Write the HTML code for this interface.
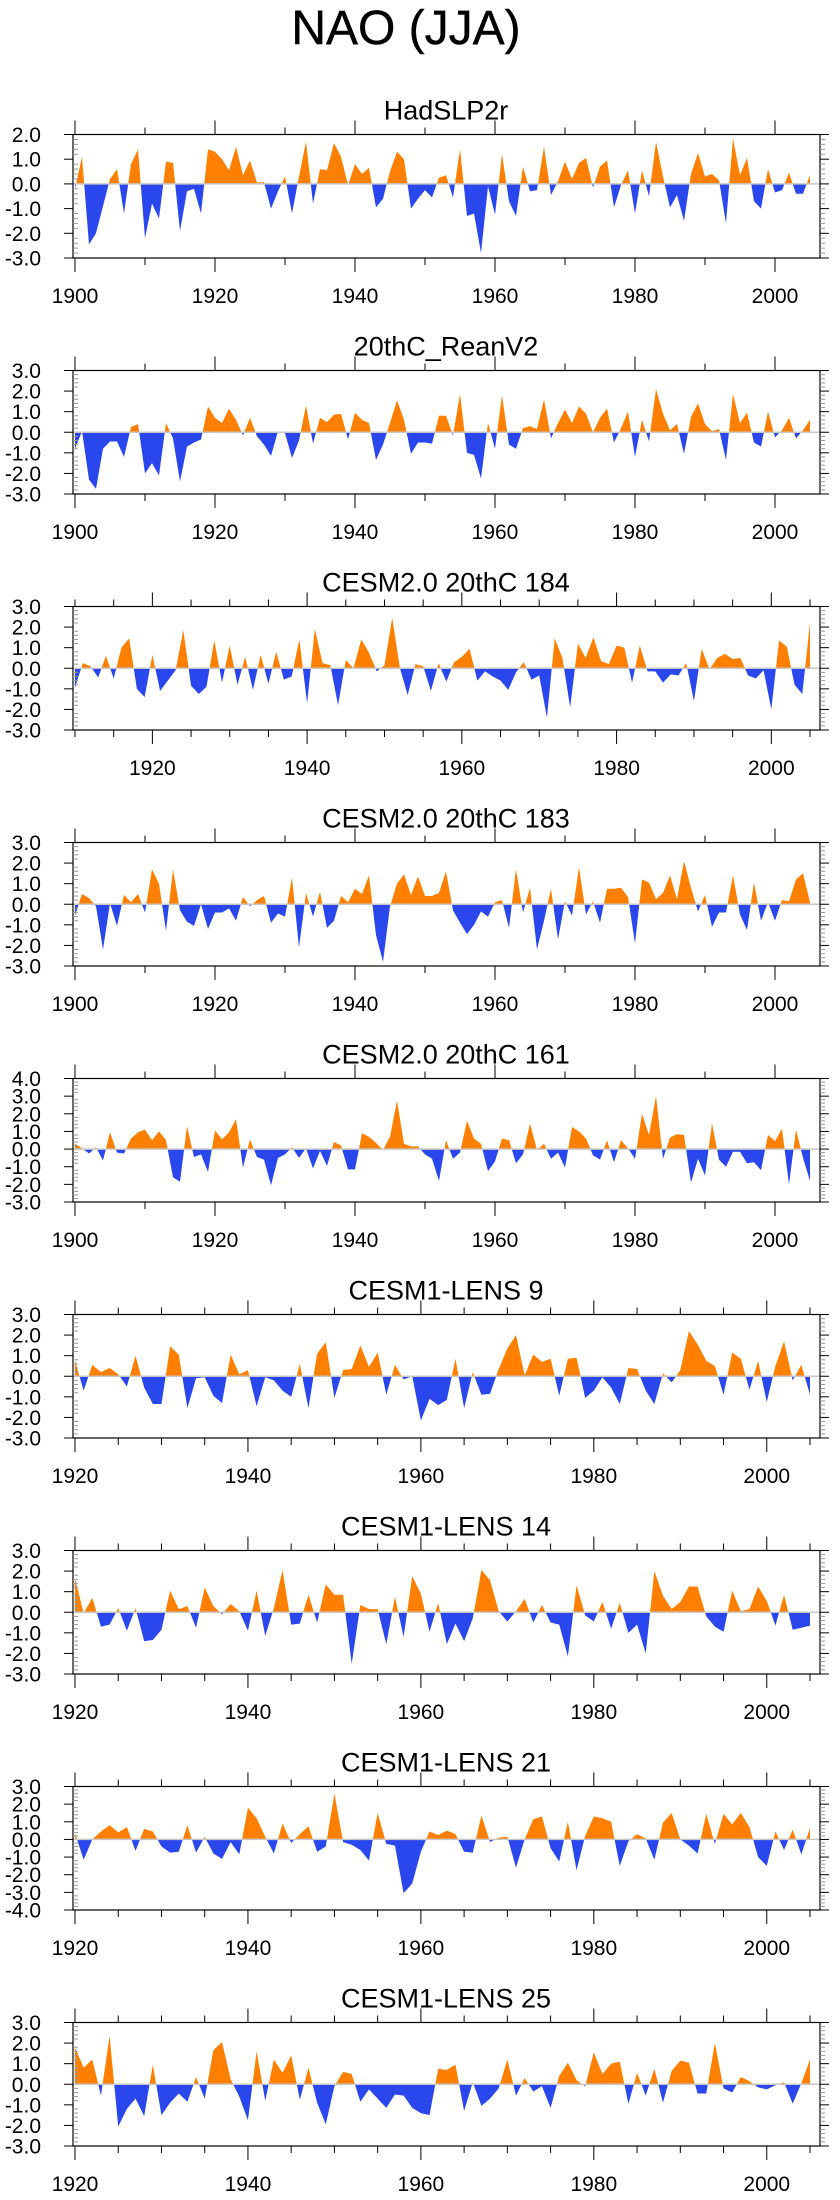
<!DOCTYPE html>
<html><head><meta charset="utf-8"><title>NAO (JJA)</title>
<style>
html,body{margin:0;padding:0;background:#fff;}
svg{display:block;font-family:"Liberation Sans",Arial,sans-serif;}
</style></head>
<body>
<svg id="chart" width="840" height="2200" viewBox="0 0 840 2200" xmlns="http://www.w3.org/2000/svg">
<rect x="0" y="0" width="840" height="2200" fill="#fff"/>
<text x="406" y="44" font-size="48" text-anchor="middle" fill="#000" stroke="#000" stroke-width="0.4">NAO (JJA)</text>
</svg>
<script>
const titles = ["HadSLP2r","20thC_ReanV2","CESM2.0 20thC 184","CESM2.0 20thC 183","CESM2.0 20thC 161","CESM1-LENS 9","CESM1-LENS 14","CESM1-LENS 21","CESM1-LENS 25"];
const startYears = [1900,1900,1910,1900,1900,1920,1920,1920,1920];
const yMax = [2,3,3,3,4,3,3,3,3];
const yMin = [-3,-3,-3,-3,-3,-3,-3,-4,-3];
const yTickLabels = [["2.0","1.0","0.0","-1.0","-2.0","-3.0"],["3.0","2.0","1.0","0.0","-1.0","-2.0","-3.0"],["3.0","2.0","1.0","0.0","-1.0","-2.0","-3.0"],["3.0","2.0","1.0","0.0","-1.0","-2.0","-3.0"],["4.0","3.0","2.0","1.0","0.0","-1.0","-2.0","-3.0"],["3.0","2.0","1.0","0.0","-1.0","-2.0","-3.0"],["3.0","2.0","1.0","0.0","-1.0","-2.0","-3.0"],["3.0","2.0","1.0","0.0","-1.0","-2.0","-3.0","-4.0"],["3.0","2.0","1.0","0.0","-1.0","-2.0","-3.0"]];
const xTickLabelsA = ["1900","1920","1940","1960","1980","2000"];
const xTickLabelsB = ["1920","1940","1960","1980","2000"];

const hadslp2r = [-0.2,1.1,-2.45,-2.0,-0.9,0.2,0.6,-1.2,0.8,1.4,-2.2,-0.8,-1.4,0.9,0.85,-1.9,-0.3,-0.2,-1.2,1.4,1.3,1.0,0.55,1.5,0.35,0.95,0.05,0.07,-1.0,-0.3,0.3,-1.2,0.3,1.7,-0.8,0.6,0.55,1.65,1.1,-0.05,0.8,0.4,0.65,-0.95,-0.6,0.5,1.3,1.0,-1.0,-0.6,-0.25,-0.55,0.25,0.35,-0.55,1.4,-1.3,-1.2,-2.8,-0.1,-1.25,1.2,-0.7,-1.3,0.7,-0.3,-0.25,1.5,-0.45,0.1,0.9,0.2,0.85,1.05,-0.15,0.7,0.95,-0.95,-0.05,0.55,-1.2,0.55,-0.5,1.7,0.3,-0.95,-0.45,-1.5,0.4,1.25,0.3,0.4,0.15,-1.6,1.85,0.35,1.05,-0.7,-1.0,0.6,-0.35,-0.25,0.45,-0.4,-0.4,0.35];
const reanV2 = [-0.8,0.05,-2.3,-2.75,-0.8,-0.45,-0.45,-1.2,0.25,0.4,-2.0,-1.5,-2.1,0.45,-0.3,-2.4,-0.7,-0.5,-0.35,1.25,0.7,0.45,1.15,0.6,-0.15,0.7,-0.2,-0.6,-1.15,0.05,-0.05,-1.25,-0.4,1.3,-0.55,0.7,0.5,0.85,0.9,-0.35,0.95,0.6,0.45,-1.35,-0.6,0.45,1.55,0.6,-1.05,-0.5,-0.5,-0.55,0.8,0.8,-0.15,1.85,-1.0,-1.1,-2.25,0.45,-0.8,1.8,-0.6,-0.8,0.2,0.3,0.15,1.6,-0.3,0.45,1.1,0.45,1.25,0.9,0.0,0.7,1.15,-0.5,0.2,1.0,-1.2,0.6,-0.45,2.1,0.9,0.1,0.4,-1.05,0.75,1.4,0.4,0.05,0.15,-1.35,1.85,0.45,0.95,-0.5,-0.7,1.0,-0.25,0.1,0.7,-0.3,0.1,0.6];
const cesm2_184 = [-0.95,0.25,0.1,-0.45,0.6,-0.5,1.0,1.45,-1.0,-1.4,0.65,-1.1,-0.6,-0.1,1.85,-0.85,-1.25,-0.9,1.35,-0.7,1.1,-0.8,0.55,-1.05,0.65,-0.75,0.8,-0.55,-0.4,1.4,-1.7,1.9,0.25,0.15,-1.8,0.4,0.0,1.4,0.75,-0.15,0.15,2.45,0.0,-1.3,0.2,0.1,-1.1,0.25,-0.65,0.3,0.55,0.95,-0.6,-0.15,-0.4,-0.6,-1.05,-0.2,0.3,-0.55,-0.35,-2.4,1.45,0.5,-1.9,1.2,0.5,1.5,0.35,0.2,1.1,1.0,-0.7,1.1,-0.15,-0.15,-0.7,-0.3,-0.35,0.25,-1.6,0.95,-0.05,0.5,0.7,0.45,0.5,-0.35,-0.5,-0.1,-2.0,1.35,1.05,-0.8,-1.25,2.2];
const cesm2_183 = [-0.55,0.5,0.3,-0.1,-2.2,0.05,-1.05,0.45,0.1,0.5,-0.4,1.7,1.0,-1.3,1.7,-0.3,-0.85,-1.05,0.0,-1.2,-0.4,-0.4,-0.2,-0.8,0.35,-0.1,0.2,0.4,-0.9,-0.45,-0.6,1.3,-2.1,0.55,-0.6,0.6,-1.15,-0.8,0.4,0.1,0.75,0.5,1.4,-1.5,-2.8,-0.1,1.0,1.45,0.45,1.35,0.4,0.4,0.55,1.6,-0.3,-0.9,-1.45,-1.0,-0.35,-0.6,0.1,0.2,-1.15,1.7,-0.4,0.8,-2.2,-0.8,0.75,-1.7,0.15,-0.55,1.8,-0.5,0.15,-0.9,0.75,0.75,0.8,0.35,-1.9,1.2,1.05,0.25,0.55,1.4,0.25,2.1,0.8,-0.35,0.45,-1.1,-0.4,-0.4,1.4,-0.5,-1.25,1.05,-0.8,0.1,-0.8,0.2,0.15,1.2,1.5,0.1];
const cesm2_161 = [0.3,0.05,-0.25,0.1,-0.65,0.95,-0.2,-0.25,0.6,0.95,1.1,0.5,1.0,0.5,-1.6,-1.85,1.3,-0.45,-0.3,-1.3,1.05,0.55,0.95,1.7,-1.05,0.55,-0.45,-0.6,-2.05,-0.5,-0.3,0.1,-0.5,0.05,-1.1,-0.1,-0.95,0.4,0.2,-1.15,-1.15,0.9,0.7,0.35,-0.05,0.7,2.75,0.3,0.15,0.15,-0.3,-0.55,-1.8,0.5,-0.55,-0.2,1.6,0.6,0.3,-1.25,-0.7,0.6,0.5,-0.8,-0.3,1.45,-0.05,0.3,-0.55,-0.2,-1.05,1.25,1.0,0.6,-0.35,-0.6,0.5,-0.75,0.5,0.05,-0.55,2.0,0.8,3.0,-0.55,0.65,0.85,0.8,-1.9,-0.55,-1.5,1.45,-0.6,-1.0,-0.15,-0.15,-0.8,-0.75,-1.2,0.8,0.45,1.15,-2.0,1.1,-0.5,-1.8];
const lens9 = [0.75,-0.7,0.55,0.2,0.4,0.1,-0.5,1.0,-0.55,-1.35,-1.35,1.45,1.05,-1.55,-0.1,-0.05,-0.95,-1.3,1.05,0.1,0.3,-1.45,-0.05,-0.2,-0.7,-1.0,0.6,-1.55,1.1,1.65,-1.05,0.3,0.35,1.5,0.45,1.15,-0.9,0.55,-0.15,0.0,-2.15,-1.1,-1.4,-1.15,0.85,-1.55,0.2,-0.9,-0.85,0.35,1.35,2.0,0.05,1.05,0.7,0.85,-0.95,0.85,0.9,-1.05,-0.7,-0.05,-0.55,-1.35,0.4,0.35,-0.7,-1.35,0.15,-0.3,0.3,2.2,1.55,0.75,0.5,-0.9,1.15,0.85,-0.65,0.75,-1.25,0.5,1.7,-0.2,0.55,-0.9];
const lens14 = [1.65,-0.05,0.7,-0.7,-0.6,0.2,-0.9,0.2,-1.4,-1.35,-0.85,1.05,0.15,0.3,-0.75,1.2,0.3,-0.1,0.4,0.05,-0.9,1.05,-1.15,0.2,2.05,-0.6,-0.55,0.85,-0.5,1.35,0.85,0.85,-2.5,0.35,0.15,0.15,-1.55,0.75,-1.2,1.75,0.9,-0.95,0.45,-1.55,-0.55,-1.4,-0.3,2.05,1.55,0.05,-0.45,0.05,0.65,-0.5,0.35,-0.5,-0.6,-2.15,1.3,-0.15,-0.45,0.5,-0.8,0.45,-1.0,-0.6,-2.0,2.0,0.8,0.15,0.5,1.25,1.25,-0.2,-0.7,-0.95,1.05,0.05,0.15,1.25,0.55,-0.65,0.85,-0.85,-0.75,-0.65];
const lens21 = [0.35,-1.15,0.0,0.45,0.8,0.4,0.7,-0.65,0.6,0.45,-0.4,-0.75,-0.7,0.8,-0.75,0.15,-0.8,-1.1,-0.15,-0.85,1.8,1.2,0.15,-0.8,0.9,-0.2,0.3,0.75,-0.7,-0.4,2.6,-0.15,-0.3,-0.6,-1.2,1.5,-0.25,-0.35,-3.05,-2.5,-0.7,0.45,0.25,0.5,0.3,-0.7,-0.75,1.35,-0.15,0.1,0.15,-1.6,0.0,1.15,1.3,-0.5,-1.25,1.0,-1.75,0.2,1.3,1.2,1.0,-1.5,-0.1,0.3,0.05,-1.15,0.95,1.5,0.0,-0.35,-0.8,1.45,-0.25,1.45,0.85,1.5,0.7,-1.0,-1.5,0.45,-0.6,0.55,-0.85,0.65];
const lens25 = [1.8,0.8,1.2,-0.55,2.35,-2.05,-1.2,-0.7,-1.55,0.95,-1.5,-0.9,-0.45,-0.85,0.35,-0.7,1.65,2.05,0.25,-0.6,-1.75,1.6,-0.8,1.2,0.55,1.4,-0.75,0.8,-0.9,-1.95,-0.1,0.6,0.5,-0.85,-0.25,-0.7,-1.15,-0.5,-0.55,-1.15,-1.4,-1.5,0.75,0.7,0.95,-1.3,0.1,-1.05,-0.7,-0.2,1.2,-0.55,0.3,-0.35,-0.1,-1.15,0.4,1.05,0.2,-0.1,1.55,0.5,1.0,1.1,-0.95,0.55,-0.55,0.75,-0.9,0.65,1.15,1.05,-0.45,-0.45,2.0,-0.2,-0.4,0.35,0.15,-0.15,-0.25,-0.05,0.1,-0.95,0.05,1.2];

const allSeries = [hadslp2r,reanV2,cesm2_184,cesm2_183,cesm2_161,lens9,lens14,lens21,lens25];
const seriesNames = ["hadslp2r","20thc-reanv2","cesm2-184","cesm2-183","cesm2-161","lens-9","lens-14","lens-21","lens-25"];

const NS = "http://www.w3.org/2000/svg";
const svg = document.getElementById("chart");
const BOX_L = 73, BOX_R = 820, BOX_H = 123.5, X0 = 75, X1 = 810;
const ORANGE = "#ff8000", BLUE = "#2a47ee";

function mk(tag, attrs, parent) {
  const e = document.createElementNS(NS, tag);
  for (const k in attrs) e.setAttribute(k, attrs[k]);
  parent.appendChild(e);
  return e;
}

allSeries.forEach((vals, p) => {
  const top = 134.5 + 236 * p;
  const bot = top + BOX_H;
  const y0 = startYears[p], y1 = 2005;
  const xs = yr => X0 + (yr - y0) * (X1 - X0) / (y1 - y0);
  const ys = v => top + (yMax[p] - v) * BOX_H / (yMax[p] - yMin[p]);

  const g = mk("g", {}, svg);
  
  

  const t = mk("text", {x: 446, y: top - 15, "font-size": 27, "text-anchor": "middle", fill: "#000"}, g);
  t.textContent = titles[p];
  
  

  const pts = vals.map((v, i) => [y0 + i, v]);
  const ext = [];
  for (let i = 0; i < pts.length; i++) {
    if (i > 0) {
      const a = pts[i - 1], b = pts[i];
      if ((a[1] > 0 && b[1] < 0) || (a[1] < 0 && b[1] > 0)) {
        const f = a[1] / (a[1] - b[1]);
        ext.push([a[0] + f * (b[0] - a[0]), 0]);
      }
    }
    ext.push(pts[i]);
  }
  const zy = ys(0);
  const first = xs(ext[0][0]), last = xs(ext[ext.length - 1][0]);
  let pos = "M" + first + "," + zy, neg = "M" + first + "," + zy;
  ext.forEach(q => {
    pos += " L" + xs(q[0]).toFixed(2) + "," + ys(Math.max(q[1], 0)).toFixed(2);
    neg += " L" + xs(q[0]).toFixed(2) + "," + ys(Math.min(q[1], 0)).toFixed(2);
  });
  pos += " L" + last + "," + zy + " Z";
  neg += " L" + last + "," + zy + " Z";
  const pp = mk("path", {d: pos, fill: ORANGE, stroke: "none"}, g);
  
  
  const np = mk("path", {d: neg, fill: BLUE, stroke: "none"}, g);
  
  

  const zl = mk("line", {x1: BOX_L, x2: BOX_R, y1: zy, y2: zy, stroke: "#c8c8c8", "stroke-width": 1.5}, g);
  
  

  const box = mk("rect", {x: BOX_L, y: top, width: BOX_R - BOX_L, height: BOX_H, fill: "none", stroke: "#000", "stroke-width": 1.2}, g);
  
  

  for (let v = yMin[p]; v <= yMax[p] + 1e-9; v += 0.2) {
    const yy = ys(v);
    const major = Math.abs(v - Math.round(v)) < 1e-6;
    if (major) {
      mk("line", {x1: BOX_L - 9, x2: BOX_L, y1: yy, y2: yy, stroke: "#000", "stroke-width": 1}, g);
      mk("line", {x1: BOX_R, x2: BOX_R + 9, y1: yy, y2: yy, stroke: "#000", "stroke-width": 1}, g);
    } else {
      mk("line", {x1: BOX_L, x2: BOX_L + 5, y1: yy, y2: yy, stroke: "#999", "stroke-width": 1}, g);
      mk("line", {x1: BOX_R, x2: BOX_R + 5, y1: yy, y2: yy, stroke: "#999", "stroke-width": 1}, g);
    }
  }
  yTickLabels[p].forEach((lab, i) => {
    const yl = mk("text", {x: 41, y: ys(yMax[p] - i) + 7.5, "font-size": 21, "text-anchor": "end", fill: "#000"}, g);
    yl.textContent = lab;
    
    
  });

  const minorStep = (p === 2 || p >= 5) ? 5 : 10;
  for (let yr = y0; yr <= 2005; yr += minorStep) {
    const xx = xs(yr);
    const major = yr % 20 === 0;
    const L = major ? 14 : 7;
    mk("line", {x1: xx, x2: xx, y1: bot, y2: bot + L, stroke: "#000", "stroke-width": 1}, g);
    mk("line", {x1: xx, x2: xx, y1: top, y2: top - L, stroke: "#000", "stroke-width": 1}, g);
  }
  const xl = (y0 === 1900) ? xTickLabelsA : xTickLabelsB;
  xl.forEach(lab => {
    const tx = mk("text", {x: xs(+lab), y: bot + 45, "font-size": 21, "text-anchor": "middle", fill: "#000"}, g);
    tx.textContent = lab;
    
    
  });
});
</script>
</body></html>
